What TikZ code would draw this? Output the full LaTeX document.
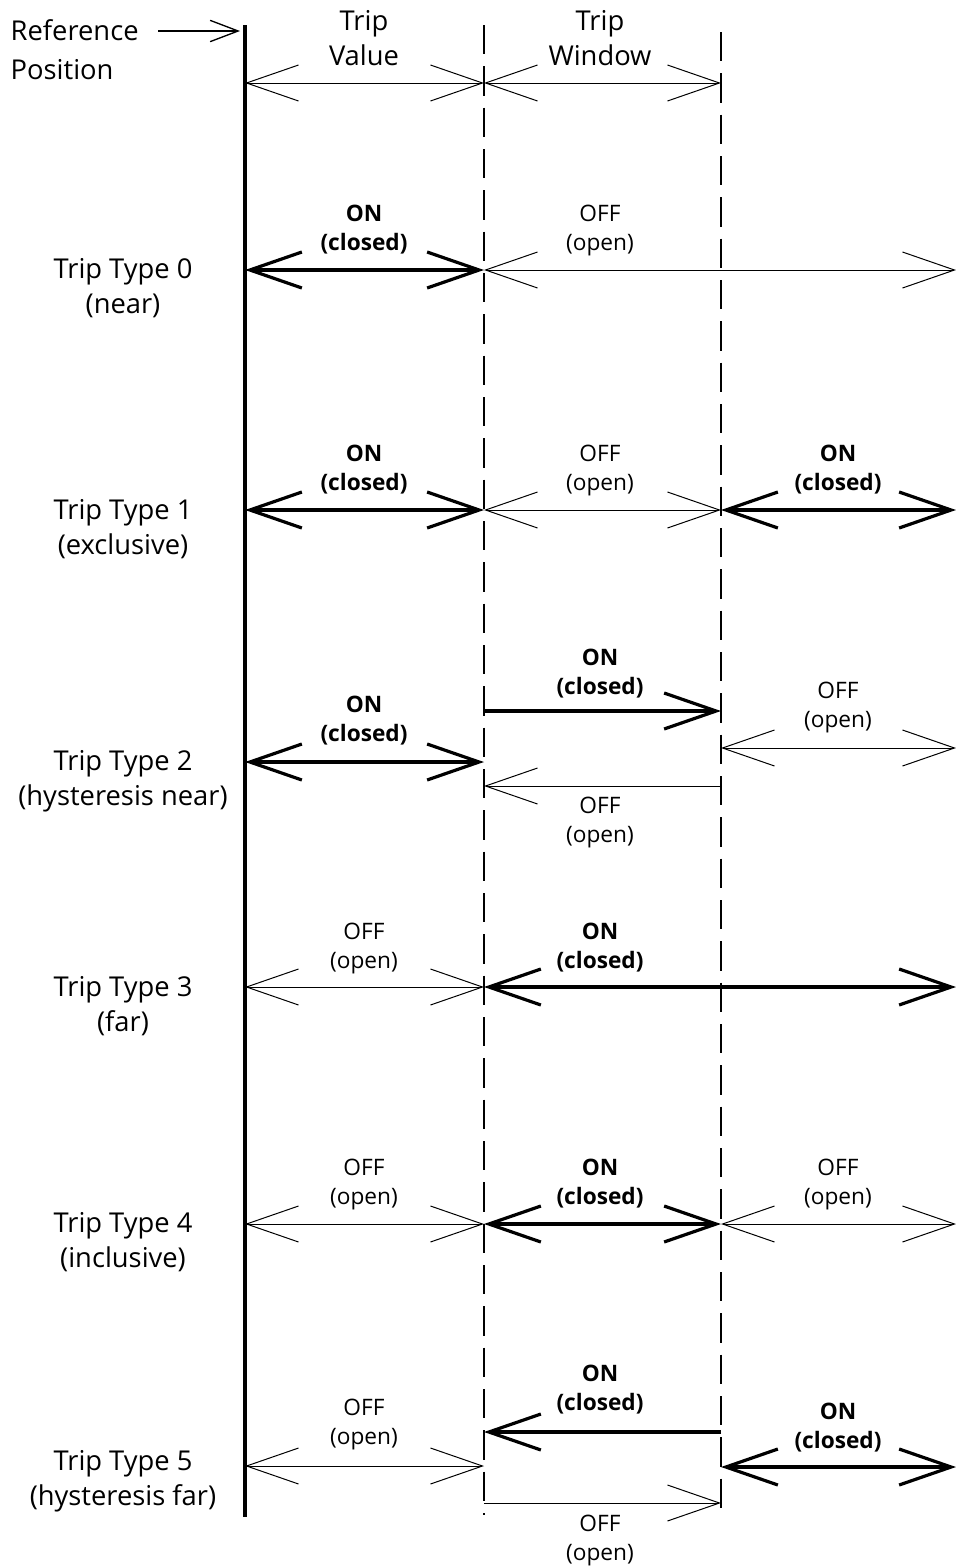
\documentclass[tikz,border=0pt]{standalone}
\usepackage{fontspec}
\setmainfont{Open Sans}
\usetikzlibrary{arrows.meta}

\tikzset{
  px/.style={x=0.75pt,y=-0.75pt},
  >={Straight Barb[length=39pt,width=27pt]},
  onarrow/.style={line width=2.4pt},
  offarrow/.style={line width=0.75pt},
  refline/.style={line width=3pt},
  limitline/.style={line width=1.5pt,dash pattern=on 22pt off 9pt},
  rowlabel/.style={align=center,font=\fontsize{20.5}{26.5}\selectfont},
  onlabel/.style={align=center,font=\fontsize{17}{21.75}\selectfont\bfseries},
  offlabel/.style={align=center,font=\fontsize{17}{21.75}\selectfont}
}

\begin{document}
\begin{tikzpicture}[px]
  \useasboundingbox (0,0) rectangle (956,1568);

  % reference, trip value and trip window positions
  \coordinate (reftop)  at (245,25);
  \coordinate (refbot)  at (245,1517);
  \coordinate (valtop)  at (484,25);
  \coordinate (valbot)  at (484,1515);
  \coordinate (wintop)  at (721,32);
  \coordinate (winbot)  at (721,1515);
  \draw[refline] (reftop) -- (refbot);
  \draw[limitline] (valtop) -- (valbot);
  \draw[limitline] (wintop) -- (winbot);

  % header
  \node (refpos) at (6,50) [anchor=west,align=left,font=\fontsize{20.5}{29}\selectfont] {Reference\\Position};
  \coordinate (refstart) at (158,31);
  \coordinate (refend)   at (240,31);
  \draw[line width=1pt,-{Straight Barb[length=21pt,width=16pt]}] (refstart) -- (refend);
  \node (tripval) at (364,38) [rowlabel] {Trip\\Value};
  \node (tripwin) at (600,38) [rowlabel] {Trip\\Window};
  \coordinate (d0) at (245,83);
  \coordinate (d1) at (484,83);
  \coordinate (d2) at (721,83);
  \draw[offarrow,<->] (d0) -- (d1);
  \draw[offarrow,<->] (d1) -- (d2);

  % trip type 0
  \node (type0) at (123,288) [rowlabel] {Trip Type 0\\(near)};
  \coordinate (a0) at (245,270);
  \coordinate (b0) at (484,270);
  \coordinate (e0) at (956,270);
  \draw[onarrow,<->] (a0) -- (b0);
  \draw[offarrow,<->] (b0) -- (e0);
  \node (on0)  at (364,230) [onlabel] {ON\\(closed)};
  \node (off0) at (600,230) [offlabel] {OFF\\(open)};

  % trip type 1
  \node (type1) at (123,529) [rowlabel] {Trip Type 1\\(exclusive)};
  \coordinate (a1) at (245,510);
  \coordinate (b1) at (484,510);
  \coordinate (c1) at (721,510);
  \coordinate (e1) at (956,510);
  \draw[onarrow,<->] (a1) -- (b1);
  \draw[offarrow,<->] (b1) -- (c1);
  \draw[onarrow,<->] (c1) -- (e1);
  \node (on1a) at (364,470) [onlabel] {ON\\(closed)};
  \node (off1) at (600,470) [offlabel] {OFF\\(open)};
  \node (on1b) at (838,470) [onlabel] {ON\\(closed)};

  % trip type 2
  \node (type2) at (123,781) [rowlabel] {Trip Type 2\\(hysteresis near)};
  \coordinate (a2) at (245,762);
  \coordinate (b2) at (484,762);
  \coordinate (b2up) at (484,711);
  \coordinate (c2up) at (721,711);
  \coordinate (b2dn) at (484,786);
  \coordinate (c2dn) at (721,786);
  \coordinate (c2) at (721,748);
  \coordinate (e2) at (956,748);
  \draw[onarrow,<->] (a2) -- (b2);
  \draw[onarrow,->] (b2up) -- (c2up);
  \draw[offarrow,->] (c2dn) -- (b2dn);
  \draw[offarrow,<->] (c2) -- (e2);
  \node (on2a)  at (364,721) [onlabel] {ON\\(closed)};
  \node (on2b)  at (600,674) [onlabel] {ON\\(closed)};
  \node (off2a) at (600,822) [offlabel] {OFF\\(open)};
  \node (off2b) at (838,707) [offlabel] {OFF\\(open)};

  % trip type 3
  \node (type3) at (123,1006) [rowlabel] {Trip Type 3\\(far)};
  \coordinate (a3) at (245,987);
  \coordinate (b3) at (484,987);
  \coordinate (e3) at (956,987);
  \draw[offarrow,<->] (a3) -- (b3);
  \draw[onarrow,<->] (b3) -- (e3);
  \node (off3) at (364,948) [offlabel] {OFF\\(open)};
  \node (on3)  at (600,948) [onlabel] {ON\\(closed)};

  % trip type 4
  \node (type4) at (123,1242) [rowlabel] {Trip Type 4\\(inclusive)};
  \coordinate (a4) at (245,1224);
  \coordinate (b4) at (484,1224);
  \coordinate (c4) at (721,1224);
  \coordinate (e4) at (956,1224);
  \draw[offarrow,<->] (a4) -- (b4);
  \draw[onarrow,<->] (b4) -- (c4);
  \draw[offarrow,<->] (c4) -- (e4);
  \node (off4a) at (364,1184) [offlabel] {OFF\\(open)};
  \node (on4)   at (600,1184) [onlabel] {ON\\(closed)};
  \node (off4b) at (838,1184) [offlabel] {OFF\\(open)};

  % trip type 5
  \node (type5) at (123,1481) [rowlabel] {Trip Type 5\\(hysteresis far)};
  \coordinate (a5) at (245,1466);
  \coordinate (b5) at (484,1466);
  \coordinate (b5up) at (484,1432);
  \coordinate (c5up) at (721,1432);
  \coordinate (b5dn) at (484,1503);
  \coordinate (c5dn) at (721,1503);
  \coordinate (c5) at (721,1467);
  \coordinate (e5) at (956,1467);
  \draw[offarrow,<->] (a5) -- (b5);
  \draw[onarrow,->] (c5up) -- (b5up);
  \draw[offarrow,->] (b5dn) -- (c5dn);
  \draw[onarrow,<->] (c5) -- (e5);
  \node (off5a) at (364,1424) [offlabel] {OFF\\(open)};
  \node (on5a)  at (600,1390) [onlabel] {ON\\(closed)};
  \node (on5b)  at (838,1428) [onlabel] {ON\\(closed)};
  \node (off5b) at (600,1540) [offlabel] {OFF\\(open)};
\end{tikzpicture}
\end{document}
